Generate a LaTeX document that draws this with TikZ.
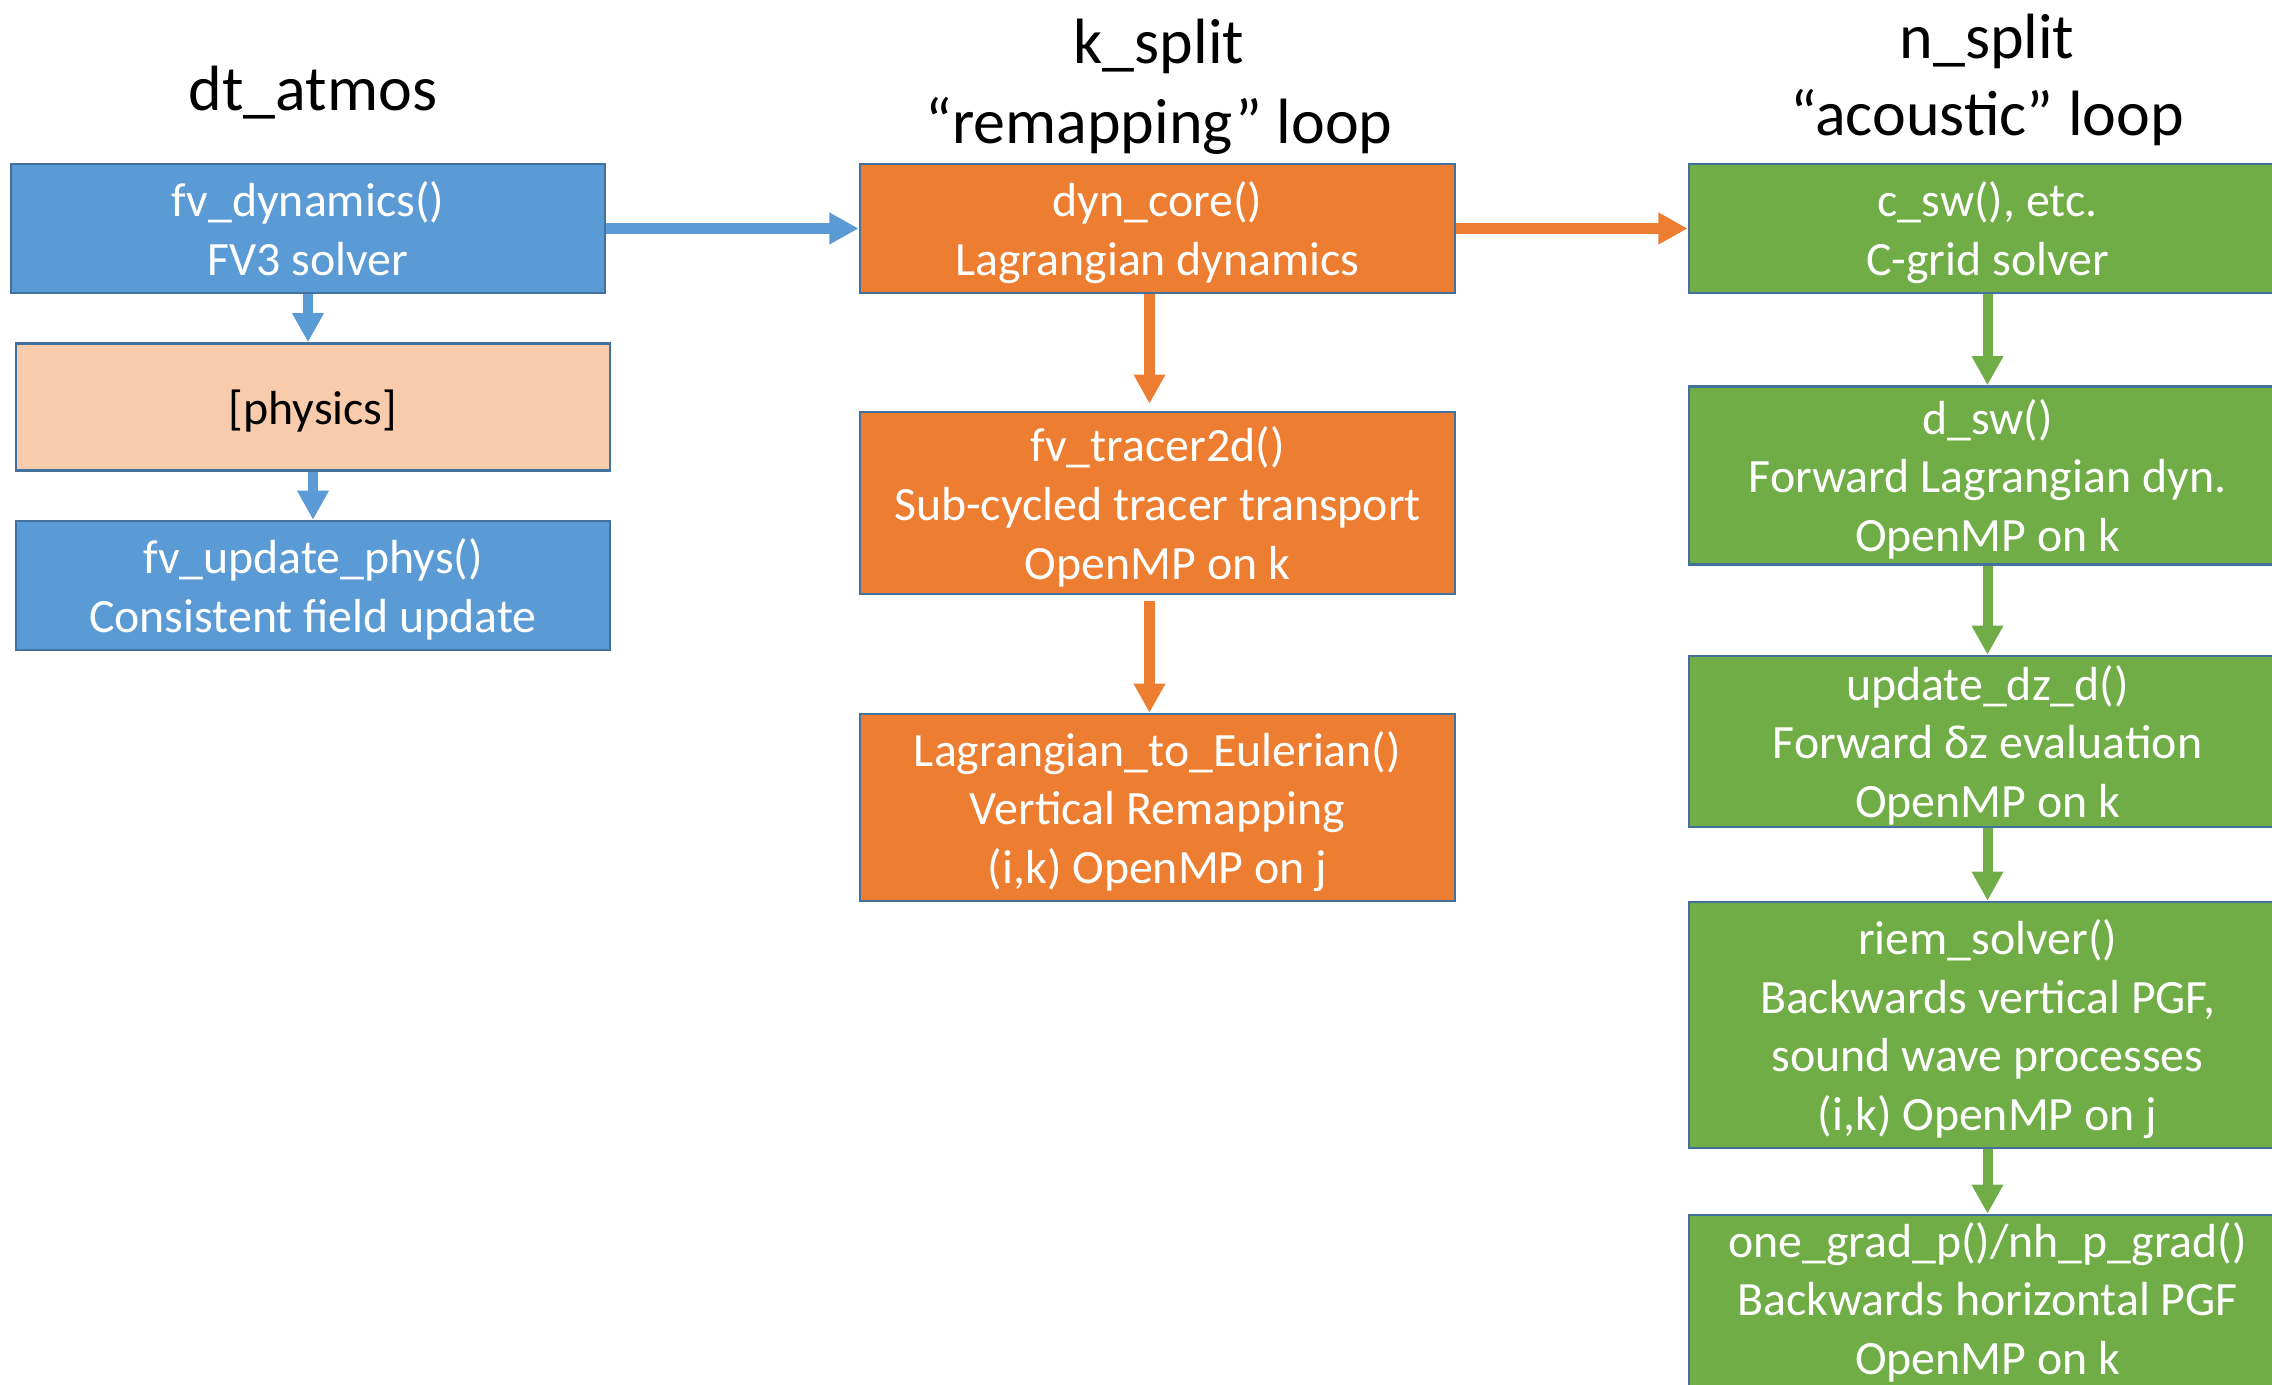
\documentclass[tikz,border=0pt]{standalone}
\usepackage{fontspec}
\setmainfont{Carlito}
\usetikzlibrary{arrows.meta}
\definecolor{bblue}{HTML}{5B9BD5}
\definecolor{borange}{HTML}{ED7D31}
\definecolor{bgreen}{HTML}{70AD47}
\definecolor{bpeach}{HTML}{F8CBAD}
\definecolor{bedge}{HTML}{41719C}
\begin{document}
\begin{tikzpicture}[x=0.01cm,y=-0.01cm,
  box/.style={draw=bedge, line width=0.7pt, minimum width=5.94cm, align=center, inner sep=0pt, text depth=0pt, text=white, font=\fontsize{13.6}{16.7}\selectfont},
  ttl/.style={align=center, text=black},
  arr/.style={line width=2.85pt, -{Triangle[width=8.5pt,length=8.3pt]}},
]
\useasboundingbox (0,0) rectangle (2272,1385);
\clip (0,0) rectangle (2272,1385);

% titles
\node[ttl, font=\fontsize{18.2}{22.8}\selectfont] (t1) at (313,93) {dt\_atmos};
\node[ttl, font=\fontsize{18.2}{22.8}\selectfont] (t2) at (1159,87) {k\_split\\“remapping” loop};
\node[ttl, font=\fontsize{18.2}{21.8}\selectfont] (t3) at (1987,80) {n\_split\\“acoustic” loop};

% column 1
\node[box, fill=bblue, minimum height=1.29cm] (fvdyn) at (308,228.5) {fv\_dynamics()\\FV3 solver};
\node[box, fill=bpeach, text=black, minimum height=1.27cm] (phys) at (313,407) {[physics]};
\node[box, fill=bblue, minimum height=1.29cm] (fvupd) at (313,585.5) {fv\_update\_phys()\\Consistent field update};

% column 2
\node[box, fill=borange, minimum width=5.95cm, minimum height=1.29cm] (dync) at (1157.5,228.5) {dyn\_core()\\Lagrangian dynamics};
\node[box, fill=borange, minimum width=5.95cm, minimum height=1.82cm] (trac) at (1157.5,503) {fv\_tracer2d()\\Sub-cycled tracer transport\\OpenMP on k};
\node[box, fill=borange, minimum width=5.95cm, minimum height=1.87cm] (l2e) at (1157.5,807.5) {Lagrangian\_to\_Eulerian()\\Vertical Remapping\\(i,k) OpenMP on j};

% column 3
\node[box, fill=bgreen, minimum width=5.97cm, minimum height=1.29cm] (csw) at (1987.5,228.5) {c\_sw(), etc.\\C-grid solver};
\node[box, fill=bgreen, minimum width=5.97cm, minimum height=1.78cm] (dsw) at (1987.5,475.5) {d\_sw()\\Forward Lagrangian dyn.\\OpenMP on k};
\node[box, fill=bgreen, minimum width=5.97cm, minimum height=1.71cm] (updz) at (1987.5,741.5) {update\_dz\_d()\\Forward δz evaluation\\OpenMP on k};
\node[box, fill=bgreen, minimum width=5.97cm, minimum height=2.46cm] (riem) at (1987.5,1025) {riem\_solver()\\Backwards vertical PGF,\\sound wave processes\\(i,k) OpenMP on j};
\node[box, fill=bgreen, minimum width=5.97cm, minimum height=1.78cm, text depth=3.2pt] (oneg) at (1987.5,1304) {one\_grad\_p()/nh\_p\_grad()\\Backwards horizontal PGF\\OpenMP on k};

% connectors
\draw[arr, bblue] (fvdyn.east) -- (dync.west);
\draw[arr, borange] (dync.east) -- (csw.west);
\draw[arr, bblue] (fvdyn.south) -- (fvdyn.south |- phys.north);
\draw[arr, bblue] (phys.south) -- (fvupd.north);
\draw[arr, borange] ([xshift=-0.08cm]dync.south) -- ([xshift=-0.08cm,yshift=0.07cm]trac.north);
\draw[arr, borange] ([xshift=-0.08cm,yshift=-0.06cm]trac.south) -- ([xshift=-0.08cm]l2e.north);
\draw[arr, bgreen] (csw.south) -- (dsw.north);
\draw[arr, bgreen] (dsw.south) -- (updz.north);
\draw[arr, bgreen] (updz.south) -- (riem.north);
\draw[arr, bgreen] (riem.south) -- (oneg.north);
\end{tikzpicture}
\end{document}
